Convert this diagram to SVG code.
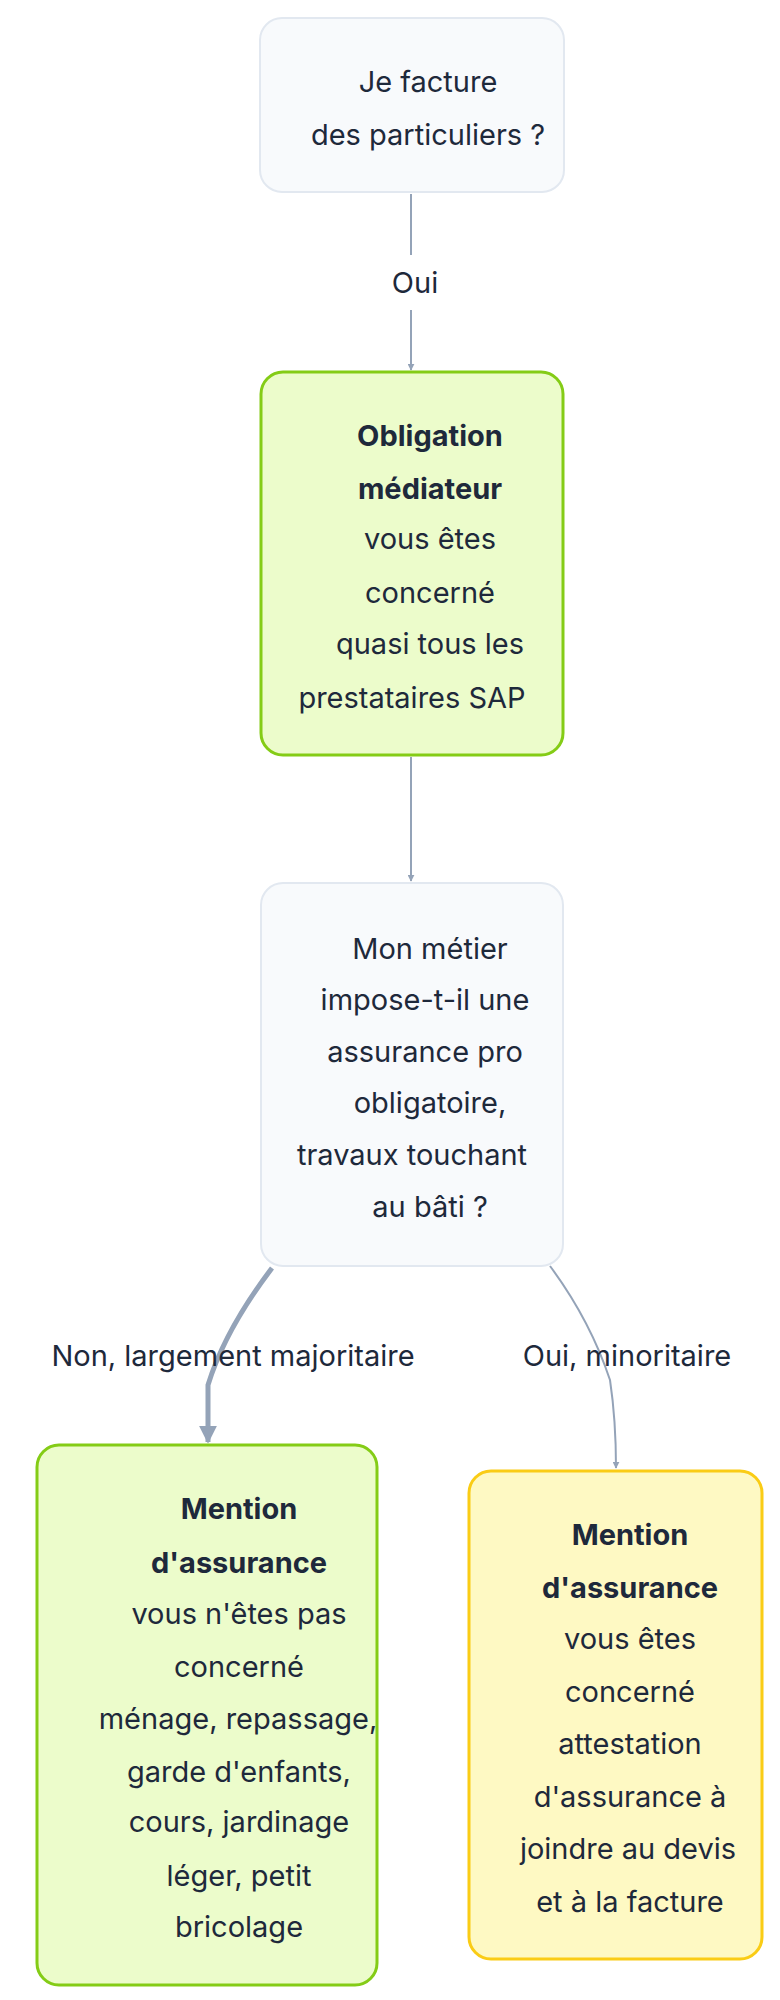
<svg xmlns="http://www.w3.org/2000/svg" width="780" height="2000" viewBox="0 0 780 2000">
<style>
text{font-family:Inter,"Noto Sans",sans-serif;font-size:29px;fill:#1e293b;text-anchor:middle}
.b{font-weight:700}
.g{fill:#f8fafc;stroke:#e2e8f0;stroke-width:2}
.gr{fill:#ecfccb;stroke:#84cc16;stroke-width:3}
.y{fill:#fef9c3;stroke:#facc15;stroke-width:3}
.e{fill:none;stroke:#94a3b8;stroke-width:2}
</style>
<defs><marker id="a" viewBox="0 0 10 10" refX="9" refY="5" markerWidth="7" markerHeight="7" markerUnits="userSpaceOnUse" orient="auto"><path d="M0,0L10,5L0,10z" fill="#94a3b8"/></marker>
<marker id="a2" viewBox="0 0 10 10" refX="9" refY="5" markerWidth="18" markerHeight="18" markerUnits="userSpaceOnUse" orient="auto"><path d="M0,0L10,5L0,10z" fill="#94a3b8"/></marker></defs>
<g id="connectors">
<path class="e" d="M411,194V255M411,310V370" marker-end="url(#a)"/>
<text x="415" y="293">Oui</text>
<path class="e" d="M411,757V881" marker-end="url(#a)"/>
<path class="e" style="stroke-width:5" d="M272,1268Q225,1330 208,1385V1442" marker-end="url(#a2)"/>
<text x="233" y="1366">Non, largement majoritaire</text>
<path class="e" d="M550,1266Q590,1320 610,1380Q616,1420 616,1468" marker-end="url(#a)"/>
<text x="627" y="1366">Oui, minoritaire</text>
</g>
<g id="n1"><rect class="g" x="260" y="18" width="304" height="174" rx="22"/>
<text x="428" y="92">Je facture</text><text x="428" y="145">des particuliers ?</text></g>
<g id="n2"><rect class="gr" x="261" y="372" width="302" height="383" rx="22"/>
<text class="b" x="430" y="446">Obligation</text><text class="b" x="430" y="499">médiateur</text>
<text x="430" y="549">vous êtes</text><text x="430" y="603">concerné</text><text x="430" y="654">quasi tous les</text><text x="412" y="708">prestataires SAP</text></g>
<g id="n3"><rect class="g" x="261" y="883" width="302" height="383" rx="22"/>
<text x="430" y="959">Mon métier</text><text x="425" y="1010">impose-t-il une</text><text x="425" y="1062">assurance pro</text><text x="430" y="1113">obligatoire,</text><text x="412" y="1165">travaux touchant</text><text x="430" y="1217">au bâti ?</text></g>
<g id="n4"><rect class="gr" x="37" y="1445" width="340" height="540" rx="22"/>
<text class="b" x="239" y="1519">Mention</text><text class="b" x="239" y="1573">d'assurance</text>
<text x="239" y="1624">vous n'êtes pas</text><text x="239" y="1677">concerné</text><text x="238" y="1729">ménage, repassage,</text><text x="239" y="1782">garde d'enfants,</text><text x="239" y="1832">cours, jardinage</text><text x="239" y="1886">léger, petit</text><text x="239" y="1937">bricolage</text></g>
<g id="n5"><rect class="y" x="469" y="1471" width="293" height="488" rx="22"/>
<text class="b" x="630" y="1545">Mention</text><text class="b" x="630" y="1598">d'assurance</text>
<text x="630" y="1649">vous êtes</text><text x="630" y="1702">concerné</text><text x="630" y="1754">attestation</text><text x="630" y="1807">d'assurance à</text><text x="628" y="1859">joindre au devis</text><text x="630" y="1912">et à la facture</text></g>
</svg>
